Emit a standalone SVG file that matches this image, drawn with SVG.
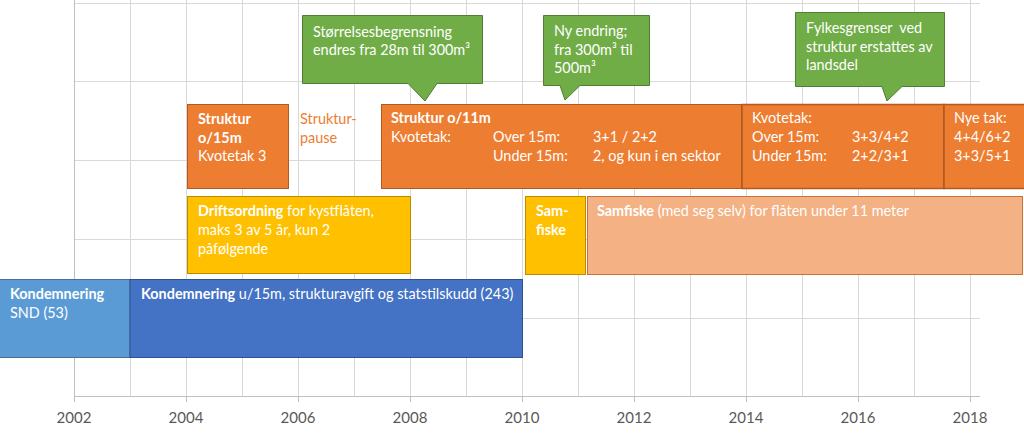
<svg xmlns="http://www.w3.org/2000/svg" width="1024" height="441" viewBox="0 0 1024 441">
<style>
.grid{stroke:#d9d9d9;stroke-width:1;fill:none}
.axis{stroke:#bfbfbf;stroke-width:1;fill:none}
.yr{font-family:Lato,"Liberation Sans",sans-serif;font-size:15px;fill:#595959;text-anchor:middle}
.t{font-family:Lato,"Liberation Sans",sans-serif;font-size:14.4px;fill:#ffffff}
.b{font-weight:bold}
.or{fill:#ED7D31;stroke:#AE5A21;stroke-width:1}
.gr{fill:#70AD47;stroke:#507E32;stroke-width:1}
.ye{fill:#FFC000;stroke:#BC8C00;stroke-width:1}
.lo{fill:#F4B183;stroke:#C9733A;stroke-width:1}
.lb{fill:#5B9BD5;stroke:#41719C;stroke-width:1}
.db{fill:#4472C4;stroke:#2F528F;stroke-width:1}
</style>
<rect width="1024" height="441" fill="#ffffff"/>
<g id="grid">
<path class="grid" d="M74.5 3.5H980M74.5 81.5H980M74.5 160.5H980M74.5 239.5H980M74.5 318.5H980"/>
<path class="grid" d="M130.5 0V397M186.5 0V397M242.5 0V397M298.5 0V397M354.5 0V397M410.5 0V397M466.5 0V397M522.5 0V397M578.5 0V397M634.5 0V397M690.5 0V397M746.5 0V397M802.5 0V397M858.5 0V397M914.5 0V397M970.5 0V397"/>
<path class="axis" d="M74.5 0V397M74.5 396.5H980M74.5 397V402M186.5 397V402M298.5 397V402M410.5 397V402M522.5 397V402M634.5 397V402M746.5 397V402M858.5 397V402M970.5 397V402"/>
<text class="yr" x="74" y="423">2002</text>
<text class="yr" x="186" y="423">2004</text>
<text class="yr" x="298" y="423">2006</text>
<text class="yr" x="410" y="423">2008</text>
<text class="yr" x="522" y="423">2010</text>
<text class="yr" x="634" y="423">2012</text>
<text class="yr" x="746" y="423">2014</text>
<text class="yr" x="858" y="423">2016</text>
<text class="yr" x="970" y="423">2018</text>
</g>
<g id="connectors"></g>
<g id="callout-storrelse">
<path class="gr" d="M302.5 15.5H482.5V83.5H437L425 101L408 83.5H302.5Z"/>
<text class="t" x="313" y="37">Størrelsesbegrensning</text>
<text class="t" x="313" y="55">endres fra 28m til 300m³</text>
</g>
<g id="callout-ny-endring">
<path class="gr" d="M543.5 15.5H649.5V85.5H580L565 100L560 85.5H543.5Z"/>
<text class="t" x="554" y="36">Ny endring;</text>
<text class="t" x="554" y="55">fra 300m³ til</text>
<text class="t" x="554" y="73">500m³</text>
</g>
<g id="callout-fylke">
<path class="gr" d="M795.5 12.5H944.5V86.5H902L887 101L882 86.5H795.5Z"/>
<text class="t" x="806" y="33" xml:space="preserve">Fylkesgrenser  ved</text>
<text class="t" x="806" y="52">struktur erstattes av</text>
<text class="t" x="806" y="70">landsdel</text>
</g>
<g id="struktur-15m">
<rect class="or" x="187.5" y="104.5" width="101" height="84"/>
<text class="t b" x="198" y="124">Struktur</text>
<text class="t b" x="198" y="143">o/15m</text>
<text class="t" x="198" y="161">Kvotetak 3</text>
</g>
<g id="struktur-pause">
<text class="t" x="300" y="124" style="fill:#ED7D31">Struktur-</text>
<text class="t" x="300" y="143" style="fill:#ED7D31">pause</text>
</g>
<g id="struktur-11m">
<rect class="or" x="381.5" y="104.5" width="360" height="84"/>
<text class="t b" x="391" y="123">Struktur o/11m</text>
<text class="t" x="391" y="142">Kvotetak:</text>
<text class="t" x="493" y="142">Over 15m:</text>
<text class="t" x="593" y="142">3+1 / 2+2</text>
<text class="t" x="493" y="161">Under 15m:</text>
<text class="t" x="593" y="161">2, og kun i en sektor</text>
</g>
<g id="kvotetak-2014">
<rect class="or" x="742" y="104.5" width="202" height="84" style="stroke-width:1.5"/>
<text class="t" x="752" y="123">Kvotetak:</text>
<text class="t" x="752" y="142">Over 15m:</text>
<text class="t" x="852" y="142">3+3/4+2</text>
<text class="t" x="752" y="161">Under 15m:</text>
<text class="t" x="852" y="161">2+2/3+1</text>
</g>
<g id="nye-tak">
<rect class="or" x="944" y="104.5" width="82" height="84" style="stroke-width:1.5"/>
<text class="t" x="954" y="123">Nye tak:</text>
<text class="t" x="954" y="142">4+4/6+2</text>
<text class="t" x="954" y="161">3+3/5+1</text>
</g>
<g id="driftsordning">
<rect class="ye" x="187.5" y="196.5" width="223" height="77"/>
<text class="t" x="198" y="216"><tspan class="b">Driftsordning</tspan> for kystflåten,</text>
<text class="t" x="198" y="235">maks 3 av 5 år, kun 2</text>
<text class="t" x="198" y="254">påfølgende</text>
</g>
<g id="samfiske-kort">
<rect class="ye" x="525.5" y="196.5" width="60" height="78"/>
<text class="t b" x="536" y="216">Sam-</text>
<text class="t b" x="536" y="235">fiske</text>
</g>
<g id="samfiske">
<rect class="lo" x="587.5" y="196.5" width="435" height="78"/>
<text class="t" x="597" y="216"><tspan class="b">Samfiske</tspan> (med seg selv) for flåten under 11 meter</text>
</g>
<g id="kondemnering-snd">
<rect class="lb" x="-1" y="279.5" width="131" height="78"/>
<text class="t b" x="10" y="299">Kondemnering</text>
<text class="t" x="10" y="318">SND (53)</text>
</g>
<g id="kondemnering-15m">
<rect class="db" x="130" y="279.5" width="392.5" height="78"/>
<text class="t" x="141" y="299"><tspan class="b">Kondemnering</tspan> u/15m, strukturavgift og statstilskudd (243)</text>
</g>
</svg>
